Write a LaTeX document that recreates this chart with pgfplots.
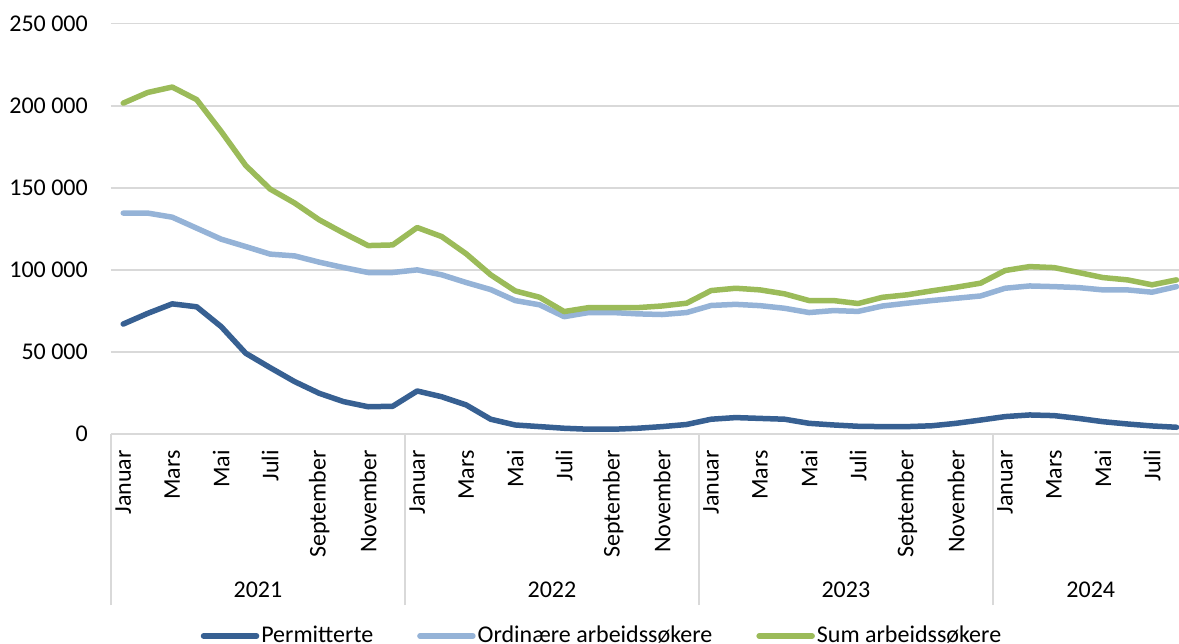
\documentclass[border=0pt]{standalone}
\usepackage{pgfplots}
\usepackage{pgfplotstable}
\pgfplotsset{compat=1.18}
\usepackage{fontspec}
\setmainfont{Carlito}

\definecolor{perm}{HTML}{376092}
\definecolor{ord}{HTML}{95B3D7}
\definecolor{sumc}{HTML}{9BBB59}
\definecolor{gridc}{HTML}{D9D9D9}

% values in thousands, Jan 2021 - Aug 2024
\pgfplotstableread{
m  perm  ord    sum
0  67.0  134.6  201.6
1  73.5  134.6  208.1
2  79.3  132.1  211.4
3  77.5  125.4  203.7
4  65.4  118.7  184.3
5  49.2  114.2  163.6
6  40.4  109.6  149.2
7  31.9  108.5  140.7
8  24.8  104.7  130.5
9  19.7  101.4  122.4
10 16.6  98.4   114.8
11 16.9  98.4   115.2
12 26.2  100.0  125.8
13 22.7  97.0   120.3
14 17.7  92.3   109.8
15 9.0   88.0   97.0
16 5.5   81.3   87.2
17 4.5   78.7   83.3
18 3.5   71.5   74.6
19 2.9   74.0   77.0
20 2.9   74.0   77.0
21 3.5   73.2   77.0
22 4.5   72.8   78.0
23 5.8   74.0   79.7
24 9.0   78.3   87.4
25 10.0  79.0   88.8
26 9.5   78.2   87.8
27 9.0   76.6   85.4
28 6.5   74.0   81.3
29 5.5   75.2   81.3
30 4.7   74.7   79.5
31 4.5   78.0   83.3
32 4.5   79.7   84.8
33 5.0   81.3   87.2
34 6.5   82.7   89.4
35 8.5   84.1   91.9
36 10.6  88.8   99.6
37 11.6  90.2   102.0
38 11.2  89.8   101.4
39 9.5   89.2   98.4
40 7.5   87.8   95.3
41 6.1   87.8   93.9
42 4.9   86.4   90.9
43 4.1   89.8   93.9
}\data

\begin{document}
\fontsize{24}{28}\selectfont
\begin{tikzpicture}
\path[use as bounding box] (-111pt,-210pt) rectangle (1068pt,434pt);
\begin{axis}[
  at={(0pt,0pt)}, anchor=south west,
  scale only axis,
  width=1068pt, height=410.3pt,
  xmin=-0.5, xmax=43.1,
  ymin=0, ymax=250,
  clip=false,
  axis x line*=bottom, axis y line*=left,
  y axis line style={draw=none},
  x axis line style={draw=gridc, line width=1.5pt},
  ymajorgrids, grid style={draw=gridc, line width=1.5pt},
  major tick length=0pt,
  ytick={0,50,100,150,200,250},
  yticklabels={0,50 000,100 000,150 000,200 000,250 000},
  yticklabel style={font=\fontsize{24}{28}\selectfont, anchor=east, inner sep=0pt, xshift=-23pt},
  xtick={0,2,...,42},
  xticklabels={Januar,Mars,Mai,Juli,September,November,
               Januar,Mars,Mai,Juli,September,November,
               Januar,Mars,Mai,Juli,September,November,
               Januar,Mars,Mai,Juli},
  xticklabel style={font=\fontsize{24}{28}\selectfont, yshift=-16pt, rotate=90, anchor=east, inner sep=0pt},
  extra x ticks={-0.5,11.5,23.5,35.5},
  extra x tick labels={},
  extra x tick style={major tick length=171pt, tick align=outside,
    tick style={draw=gridc, line width=1.5pt}, grid=none},
  legend columns=3,
  legend style={draw=none, fill=none, at={(491pt,-202pt)}, anchor=center,
    font=\fontsize{24}{28}\selectfont, inner sep=0pt,
    /tikz/every even column/.append style={column sep=42pt}},
  legend cell align=left,
  legend image code/.code={\draw[#1, line cap=round] (0pt,0pt) -- (53pt,0pt);},
  every axis plot/.append style={line width=5.5pt, line join=round, line cap=round},
]
\addplot[perm] table[x=m, y=perm] {\data};
\addlegendentry{Permitterte}
\addplot[ord] table[x=m, y=ord] {\data};
\addlegendentry{Ordinære arbeidssøkere}
\addplot[sumc] table[x=m, y=sum] {\data};
\addlegendentry{Sum arbeidssøkere}

\node[font=\fontsize{24}{28}\selectfont] at ([yshift=-156pt]axis cs:5.5,0) {2021};
\node[font=\fontsize{24}{28}\selectfont] at ([yshift=-156pt]axis cs:17.5,0) {2022};
\node[font=\fontsize{24}{28}\selectfont] at ([yshift=-156pt]axis cs:29.5,0) {2023};
\node[font=\fontsize{24}{28}\selectfont] at ([yshift=-156pt]axis cs:39.5,0) {2024};
\end{axis}
\end{tikzpicture}
\end{document}
